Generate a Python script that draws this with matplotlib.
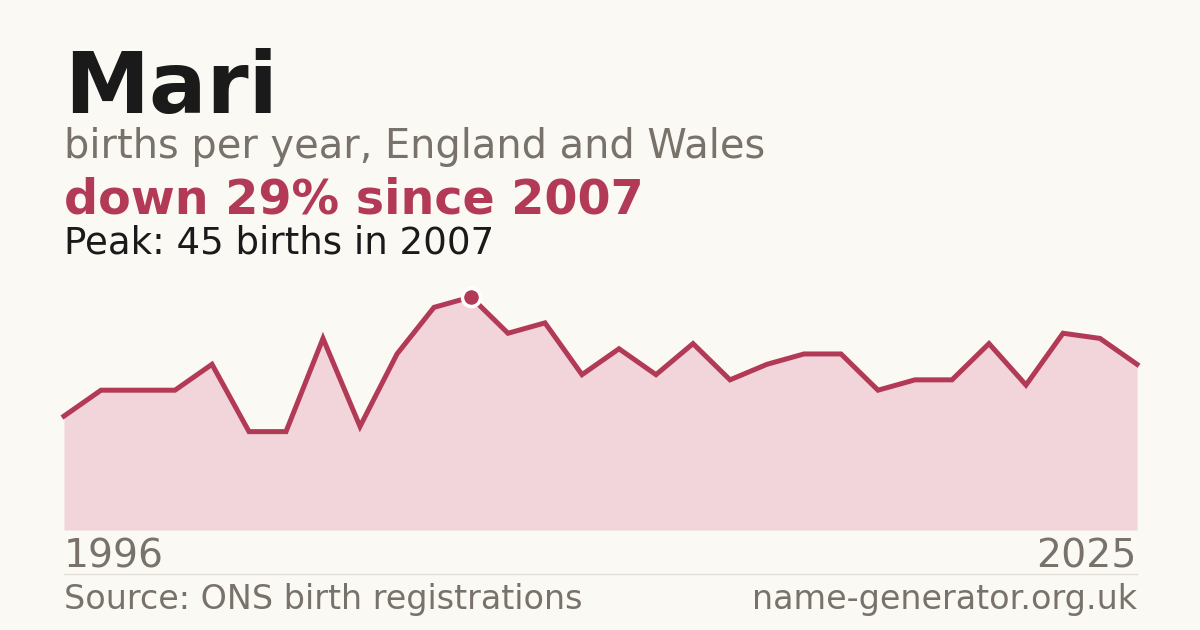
import numpy as np
import matplotlib
matplotlib.use('Agg')
import matplotlib.pyplot as plt
from matplotlib.lines import Line2D

# ============== データ ==============
NAME = 'Mari'
YEARS = list(range(1996, 2026))
BIRTHS = [22, 27, 27, 27, 32, 19, 19, 37, 20, 34,
          43, 45, 38, 40, 30, 35, 30, 36, 29, 32,
          34, 34, 27, 29, 29, 36, 28, 38, 37, 32]
PEAK_YEAR = 2007
SUBTITLE = 'births per year, England and Wales'
HEADLINE = 'down 29% since 2007'
PEAK_TEXT = 'Peak: 45 births in 2007'
SOURCE = 'Source: ONS birth registrations'
SITE = 'name-generator.org.uk'

# ============== スタイル ==============
W, H = 1200, 630
BG = '#faf9f4'
RED = '#b23a56'
FILL = '#f1d5da'
GREY = '#78726b'
DARK = '#1a1a1a'
LEFT, RIGHT = 64, 1137
BASE_Y, TOP_Y = 530, 297

plt.rcParams['font.family'] = ['DejaVu Sans']

fig = plt.figure(figsize=(W / 100, H / 100), dpi=100, facecolor=BG)


def fx(px):
    return px / W


def fy(py):
    return 1 - py / H


# ヘッダー
fig.text(fx(LEFT), fy(113), NAME, fontsize=61.5, fontweight='bold', color=DARK, va='baseline')
fig.text(fx(LEFT), fy(158), SUBTITLE, fontsize=28.7, color=GREY, va='baseline')
fig.text(fx(LEFT), fy(214), HEADLINE, fontsize=34.3, fontweight='bold', color=RED, va='baseline')
fig.text(fx(LEFT), fy(253), PEAK_TEXT, fontsize=26.7, color=DARK, va='baseline')

# チャート本体
ax = fig.add_axes([fx(LEFT), fy(BASE_Y), (RIGHT - LEFT) / W, (BASE_Y - TOP_Y) / H])
ax.set_facecolor('none')
years = np.array(YEARS)
births = np.array(BIRTHS)
peak_val = max(BIRTHS)
ax.fill_between(years, 0, births, color=FILL, linewidth=0)
ax.plot(years, births, color=RED, linewidth=3.6, solid_joinstyle='miter', clip_on=False)
ax.plot([PEAK_YEAR], [BIRTHS[YEARS.index(PEAK_YEAR)]], 'o', color=RED, markersize=13,
        markeredgecolor='white', markeredgewidth=2.5, clip_on=False, zorder=5)
ax.set_xlim(YEARS[0], YEARS[-1])
ax.set_ylim(0, peak_val)
ax.axis('off')

# 年ラベル
fig.text(fx(LEFT), fy(568), str(YEARS[0]), fontsize=28.4, color=GREY, va='baseline')
fig.text(fx(RIGHT), fy(568), str(YEARS[-1]), fontsize=28.4, color=GREY, va='baseline', ha='right')

# 区切り線
fig.add_artist(Line2D([fx(LEFT), fx(RIGHT)], [fy(574), fy(574)], color='#e2dfd8', linewidth=1))

# フッター
fig.text(fx(LEFT), fy(609), SOURCE, fontsize=24, color=GREY, va='baseline')
fig.text(fx(RIGHT), fy(609), SITE, fontsize=24, color=GREY, va='baseline', ha='right')

fig.savefig('out.png', dpi=100, facecolor=BG)
